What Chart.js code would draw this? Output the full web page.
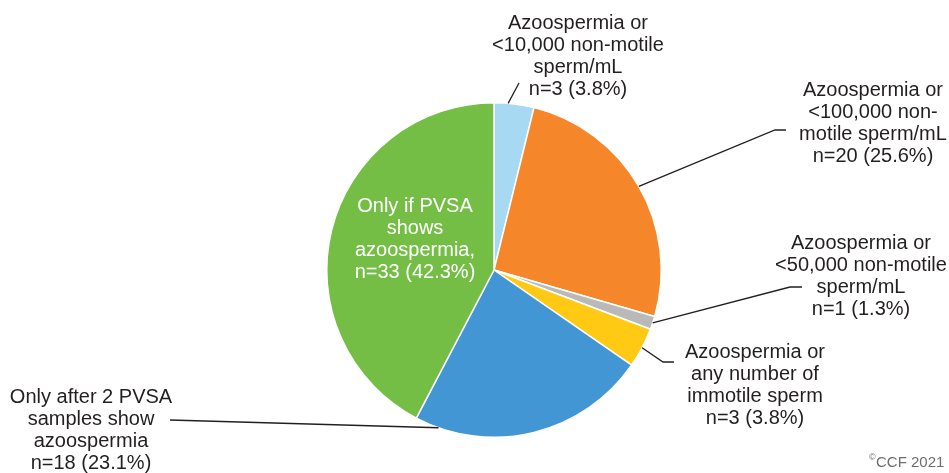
<!DOCTYPE html>
<html lang="en">
<head>
  <meta charset="UTF-8" />
  <title>PVSA clearance criteria</title>
  <style>
    body {
      margin: 0;
      padding: 0;
      background: #fff;
    }
    #wrap {
      width: 949px;
      height: 473px;
      position: relative;
    }
  </style>
</head>
<body>
  <div id="wrap">
    <canvas id="pieChart" width="949" height="473"></canvas>
  </div>

  <script src="https://cdn.jsdelivr.net/npm/chart.js"></script>
  <script>
    // data, clockwise from 12 o'clock
    const categories = [
      "Azoospermia or <10,000 non-motile sperm/mL",
      "Azoospermia or <100,000 non-motile sperm/mL",
      "Azoospermia or <50,000 non-motile sperm/mL",
      "Azoospermia or any number of immotile sperm",
      "Only after 2 PVSA samples show azoospermia",
      "Only if PVSA shows azoospermia"
    ];
    const counts = [3, 20, 1, 3, 18, 33];
    const percents = ["3.8%", "25.6%", "1.3%", "3.8%", "23.1%", "42.3%"];
    const sliceColors = ["#a7d9f2", "#f5862a", "#b9b9b9", "#ffc914", "#4196d3", "#74be46"];

    // label text as printed on the figure
    const labelLines = [
      ["Azoospermia or", "<10,000 non-motile", "sperm/mL", "n=3 (3.8%)"],
      ["Azoospermia or", "<100,000 non-", "motile sperm/mL", "n=20 (25.6%)"],
      ["Azoospermia or", "<50,000 non-motile", "sperm/mL", "n=1 (1.3%)"],
      ["Azoospermia or", "any number of", "immotile sperm", "n=3 (3.8%)"],
      ["Only after 2 PVSA", "samples show", "azoospermia", "n=18 (23.1%)"],
      ["Only if PVSA", "shows", "azoospermia,", "n=33 (42.3%)"]
    ];

    // where each label sits and how its leader runs (layout only)
    const labelLayout = [
      { x: 578, y: 23, color: "#231f20", frac: 0.35, bend: [519, 83], end: null },
      { x: 873, y: 90, color: "#231f20", frac: 0.5, bend: [775, 130], end: [786, 130] },
      { x: 861, y: 243, color: "#231f20", frac: 0.5, bend: [790, 287], end: [802, 287] },
      { x: 755, y: 352, color: "#231f20", frac: 0.5, bend: [663, 362], end: [674, 362] },
      { x: 91, y: 397, color: "#231f20", frac: 0.9, bend: [170, 420], end: null },
      { x: 415, y: 206, color: "#ffffff", frac: null, bend: null, end: null }
    ];

    const FONT = '20px "Liberation Sans", Arial, sans-serif';
    const LINE_H = 22.3;

    const labelPlugin = {
      id: "pieLabels",
      afterDatasetsDraw(chart) {
        const ctx = chart.ctx;
        const arcs = chart.getDatasetMeta(0).data;
        ctx.save();
        ctx.strokeStyle = "#231f20";
        ctx.lineWidth = 1.3;
        arcs.forEach((arc, i) => {
          const lay = labelLayout[i];
          if (lay.frac === null) return;
          const a = arc.startAngle + lay.frac * (arc.endAngle - arc.startAngle);
          const r = arc.outerRadius;
          ctx.beginPath();
          ctx.moveTo(arc.x + r * Math.cos(a), arc.y + r * Math.sin(a));
          ctx.lineTo(lay.bend[0], lay.bend[1]);
          if (lay.end) ctx.lineTo(lay.end[0], lay.end[1]);
          ctx.stroke();
        });

        ctx.font = FONT;
        ctx.textAlign = "center";
        ctx.textBaseline = "middle";
        labelLines.forEach((lines, i) => {
          const lay = labelLayout[i];
          ctx.fillStyle = lay.color;
          lines.forEach((t, k) => {
            ctx.fillText(t, lay.x, lay.y + k * LINE_H);
          });
        });

        // copyright mark
        ctx.fillStyle = "#6d6e70";
        ctx.textAlign = "left";
        ctx.font = '9px "Liberation Sans", Arial, sans-serif';
        ctx.fillText("\u00A9", 869, 458);
        ctx.font = '15px "Liberation Sans", Arial, sans-serif';
        ctx.fillText("CCF 2021", 876, 463);
        ctx.restore();
      }
    };

    new Chart(document.getElementById("pieChart").getContext("2d"), {
      type: "pie",
      data: {
        labels: categories,
        datasets: [{
          data: counts,
          backgroundColor: sliceColors,
          borderColor: "#ffffff",
          borderWidth: 1.5
        }]
      },
      options: {
        responsive: false,
        animation: false,
        layout: {
          padding: { top: 102, bottom: 35, left: 326, right: 287 }
        },
        plugins: {
          legend: { display: false },
          tooltip: { enabled: false }
        }
      },
      plugins: [labelPlugin]
    });
  </script>
</body>
</html>
